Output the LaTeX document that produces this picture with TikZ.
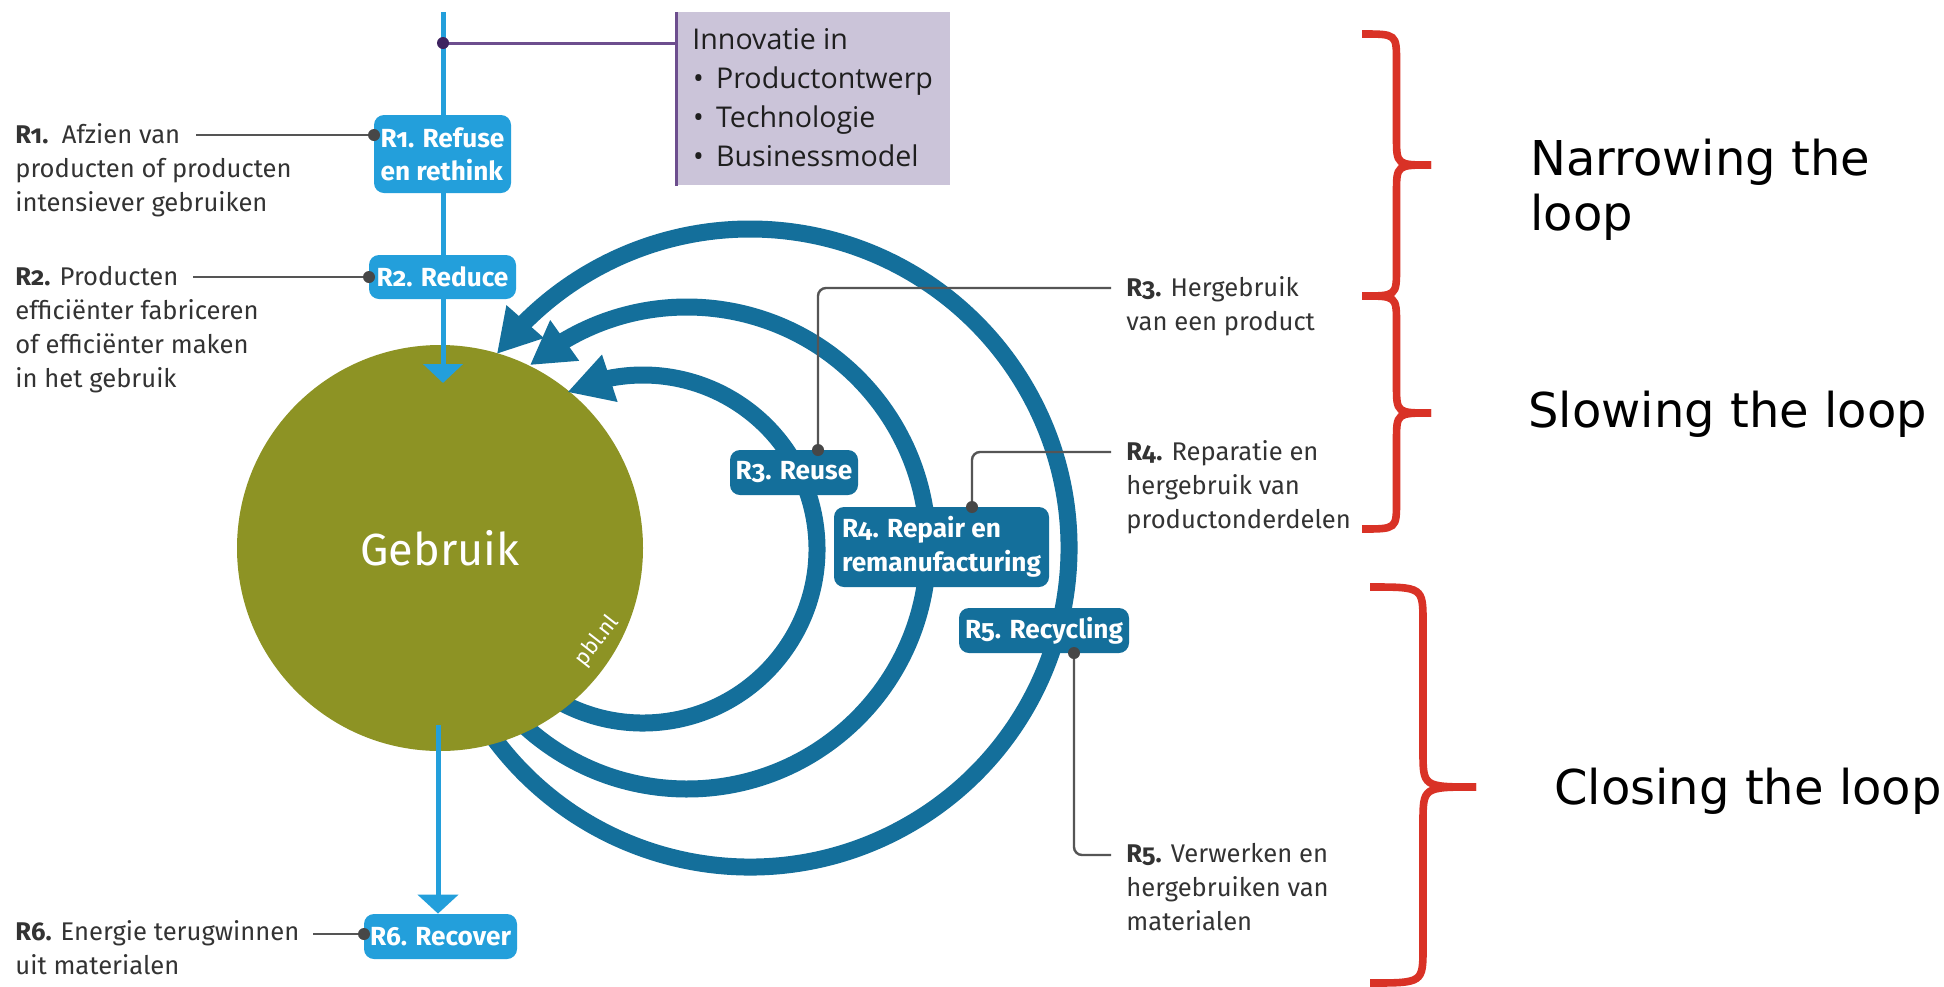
\documentclass[tikz,border=0pt]{standalone}
\usepackage{fontspec}
\setmainfont{Fira Sans}[Numbers=OldStyle]
\newfontfamily\osans{Open Sans}
\newfontfamily\dvsans{DejaVu Sans}
\usetikzlibrary{arrows.meta}
\definecolor{lblue}{RGB}{35,159,219}
\definecolor{dblue}{RGB}{20,111,155}
\definecolor{olive}{RGB}{141,147,36}
\definecolor{pfill}{RGB}{203,196,217}
\definecolor{pline}{RGB}{109,78,142}
\definecolor{pdotc}{RGB}{62,35,96}
\definecolor{bred}{RGB}{217,50,38}
\definecolor{lgray}{RGB}{85,85,85}
\definecolor{dgray}{RGB}{71,71,71}
\definecolor{txt}{RGB}{51,51,51}
\newcommand{\lns}[1]{\begin{tabular}[t]{@{}l@{}}#1\end{tabular}}
\newcommand{\bul}{\hspace{0.3pt}•\hspace{6.2pt}}
\begin{document}
\begin{tikzpicture}[x=0.5pt,y=-0.5pt,
  lbox/.style={fill=lblue, rounded corners=5pt, text=white, inner sep=0pt, align=left, font=\bfseries\fontsize{13.1}{16.5}\selectfont},
  dbox/.style={fill=dblue, rounded corners=5pt, text=white, inner sep=0pt, align=left, font=\bfseries\fontsize{13.1}{17}\selectfont},
  ann/.style={anchor=base west, inner sep=0pt, text=txt, font=\fontsize{12.8}{17}\selectfont},
  leader/.style={draw=lgray, line width=1.2pt},
  ldot/.style={fill=dgray},
  arcline/.style={draw=dblue, line width=8.5pt},
  mainline/.style={draw=lblue, line width=2.5pt},
  bracestroke/.style={draw=bred, line width=3.8pt},
  brlab/.style={anchor=base west, inner sep=0pt, text=black, font=\dvsans\fontsize{24}{27.5}\selectfont},
  arrowhd/.style={fill=dblue},
]
\useasboundingbox (0,0) rectangle (1944,986);
\fill[white] (0,0) rectangle (1944,986);

% arcs
\coordinate (c3) at (643,549);
\coordinate (c4) at (687,548);
\coordinate (c5) at (750,548);
\draw[arcline] (c3) ++(125:174) arc[start angle=125, end angle=-103, radius=174];
\draw[arcline] (c4) ++(138:241) arc[start angle=138, end angle=-122.5, radius=241];
\draw[arcline] (c5) ++(150:319) arc[start angle=150, end angle=-136, radius=319];

% circle
\node[circle, fill=olive, minimum size=203pt, inner sep=0pt, text=white, font=\fontsize{22.5}{27}\selectfont] (geb) at (440,548) {Gebruik};
\node[text=white, rotate=52, inner sep=0pt, font=\fontsize{11}{12}\selectfont] (pbl) at (597,641) {pbl.nl};

% arrowheads
\fill[arrowhd] (568.1,391.9) -- (617.6,402.0) -- (602.0,354.5) -- cycle;
\fill[arrowhd] (530.5,364.7) -- (579.2,360.8) -- (550.2,320.0) -- cycle;
\fill[arrowhd] (497.3,353.4) -- (544.0,338.1) -- (506.4,305.1) -- cycle;

% main light-blue flow
\coordinate (ltop) at (443,12);
\coordinate (ltip) at (443,383);
\draw[mainline, -{Triangle[length=9.5pt, width=19.5pt]}] (ltop) -- (ltip);
\node[lbox, minimum width=76.5pt, minimum height=22.5pt] (r6) at (440.5,936.5) {R6. Recover};
\coordinate (lstart) at (438,725);
\draw[mainline, -{Triangle[length=9.5pt, width=20pt]}] (lstart) -- (lstart |- r6.north);

% boxes
\node[lbox, minimum width=68.5pt, minimum height=39pt] (r1) at (442.5,154) {R1. Refuse\\en rethink};
\node[lbox, minimum width=73.5pt, minimum height=22pt] (r2) at (442.5,277) {R2. Reduce};
\node[dbox, minimum width=64pt, minimum height=22.5pt] (r3) at (794,472.5) {R3. Reuse};
\node[dbox, minimum width=107.5pt, minimum height=40pt] (r4) at (941.5,547) {R4. Repair en\\remanufacturing};
\node[dbox, minimum width=85pt, minimum height=22.5pt] (r5) at (1044,630.5) {R5. Recycling};

% leaders
\coordinate (d1) at (374,135); \coordinate (l1) at (196,135);
\coordinate (d2) at (369,277); \coordinate (l2) at (193,277);
\coordinate (d6) at (364,934); \coordinate (l6) at (313,934);
\coordinate (d3) at (818,450); \coordinate (e3) at (1111,288);
\coordinate (d4) at (972,507); \coordinate (e4) at (1111,452);
\coordinate (d5) at (1074,653); \coordinate (e5) at (1111,855);
\draw[leader] (l1) -- (d1);
\draw[leader] (l2) -- (d2);
\draw[leader] (l6) -- (d6);
\draw[leader, rounded corners=4pt] (d3) |- (e3);
\draw[leader, rounded corners=4pt] (d4) |- (e4);
\draw[leader, rounded corners=4pt] (d5) |- (e5);
\foreach \d in {d1,d2,d6,d3,d4,d5} \fill[ldot] (\d) circle (3pt);

% annotation texts
\node[ann] (t1) at (15,143) {\lns{\textbf{R1.}\ \ Afzien van\\producten of producten\\intensiever gebruiken}};
\node[ann] (t2) at (15,285) {\lns{\textbf{R2.} Producten\\efficiënter fabriceren\\of efficiënter maken\\in het gebruik}};
\node[ann] (t6) at (15,940) {\lns{\textbf{R6.} Energie terugwinnen\\uit materialen}};
\node[ann] (t3) at (1126,296) {\lns{\textbf{R3.} Hergebruik\\van een product}};
\node[ann] (t4) at (1126,460) {\lns{\textbf{R4.} Reparatie en\\hergebruik van\\productonderdelen}};
\node[ann] (t5) at (1126,862) {\lns{\textbf{R5.} Verwerken en\\hergebruiken van\\materialen}};

% innovation box
\node[fill=pfill, minimum width=137pt, minimum height=86.5pt, inner sep=0pt, anchor=north west] (inno) at (676,12) {};
\draw[draw=pline, line width=1.5pt] (inno.north west) -- (inno.south west);
\coordinate (pd) at (443,43);
\draw[draw=pline, line width=1.5pt] (pd) -- (inno.west |- pd);
\fill[pdotc] (pd) circle (3pt);
\node[anchor=base west, inner sep=0pt, text=black!88, font=\osans\fontsize{14.3}{19.5}\selectfont] (innotxt) at (692,49)
  {\lns{Innovatie in\\ \bul Productontwerp\\ \bul Technologie\\ \bul Businessmodel}};

% braces
\draw[bracestroke] (1362,34) .. controls (1396.5,34) .. (1396.5,62) -- (1396.5,137) .. controls (1396.5,165) .. (1431,165);
\draw[bracestroke] (1431,165) .. controls (1396.5,165) .. (1396.5,193) -- (1396.5,268) .. controls (1396.5,296) .. (1362,296);
\draw[bracestroke] (1362,296) .. controls (1396.5,296) .. (1396.5,324) -- (1396.5,385) .. controls (1396.5,413) .. (1431,413);
\draw[bracestroke] (1431,413) .. controls (1396.5,413) .. (1396.5,441) -- (1396.5,501) .. controls (1396.5,529) .. (1362,529);
\draw[bracestroke] (1370,587) .. controls (1423,587) .. (1423,623) -- (1423,751) .. controls (1423,787) .. (1476,787);
\draw[bracestroke] (1476,787) .. controls (1423,787) .. (1423,823) -- (1423,947) .. controls (1423,983) .. (1370,983);

\node[brlab] (nar) at (1530,175) {\lns{Narrowing the\\loop}};
\node[brlab] (slow) at (1528,427) {Slowing the loop};
\node[brlab] (clos) at (1554,804) {Closing the loop};
\end{tikzpicture}
\end{document}
